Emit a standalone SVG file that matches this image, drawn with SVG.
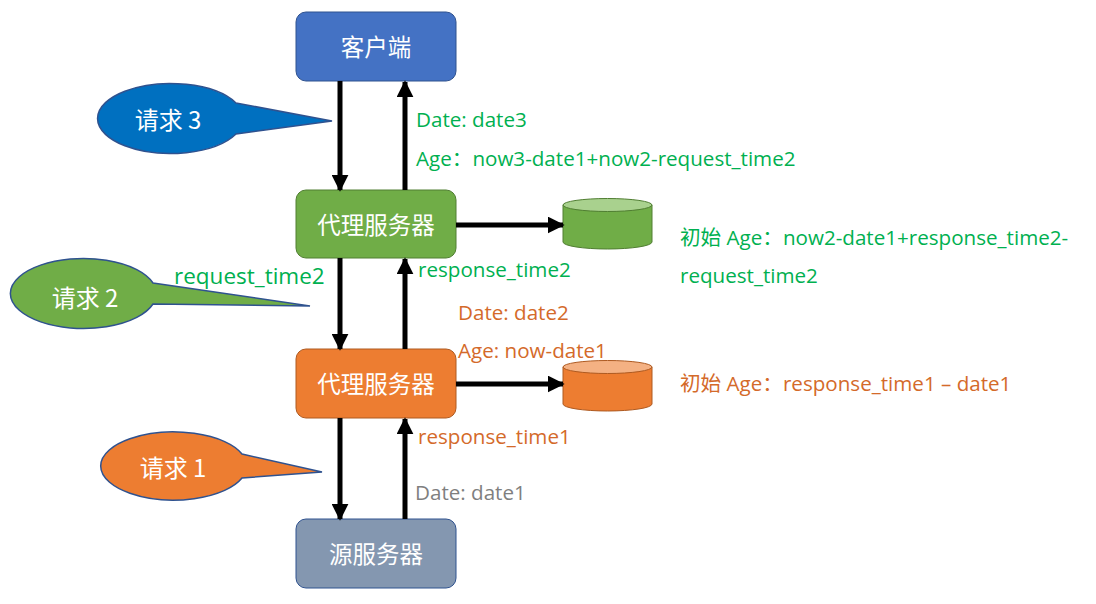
<svg xmlns="http://www.w3.org/2000/svg" width="1096" height="604" viewBox="0 0 1096 604">
<defs>
<marker id="ah" viewBox="0 0 10 10" refX="9" refY="5" markerWidth="3.4" markerHeight="3.4" orient="auto" markerUnits="strokeWidth"><path d="M0,0 L10,5 L0,10 Z" fill="#000"/></marker>
<style>
.node text{font-family:"Noto Sans CJK SC","Microsoft YaHei",sans-serif;font-size:23.5px;fill:#fff;text-anchor:middle;dominant-baseline:central}
.lbl{font-family:"Open Sans","Noto Sans CJK SC",sans-serif;font-size:20.6px}
.cjk{font-family:"Noto Sans CJK SC",sans-serif}
.g{fill:#00B050}.o{fill:#D46A2A}.gr{fill:#7F7F7F}
.conn line{stroke:#000;stroke-width:5;marker-end:url(#ah)}
.bub text{font-family:"Noto Sans CJK SC",sans-serif;font-size:24px;fill:#fff;text-anchor:middle;dominant-baseline:central}
</style>
</defs>
<rect width="1096" height="604" fill="#fff"/>
<g id="client" class="node"><rect x="296" y="12" width="160" height="69" rx="10" fill="#4472C4" stroke="#2F528F" stroke-width="1"/><text x="376" y="46">客户端</text></g>
<g id="proxy2" class="node"><rect x="296" y="190" width="160" height="68" rx="10" fill="#70AD47" stroke="#507E32" stroke-width="1"/><text x="376" y="224">代理服务器</text></g>
<g id="proxy1" class="node"><rect x="296" y="349" width="160" height="69" rx="10" fill="#ED7D31" stroke="#AE5A21" stroke-width="1"/><text x="376" y="383">代理服务器</text></g>
<g id="origin" class="node"><rect x="296" y="519" width="160" height="69" rx="10" fill="#8497B0" stroke="#2F528F" stroke-width="1"/><text x="376" y="553">源服务器</text></g>
<g id="cache2"><path d="M563,205 V242 A44.5,7 0 0 0 652,242 V205 Z" fill="#70AD47" stroke="#507E32"/><ellipse cx="607.5" cy="205" rx="44.5" ry="6.5" fill="#A9D18E" stroke="#507E32"/></g>
<g id="cache1"><path d="M563,367 V404 A44.5,7 0 0 0 652,404 V367 Z" fill="#ED7D31" stroke="#AE5A21"/><ellipse cx="607.5" cy="367" rx="44.5" ry="6.5" fill="#F4B183" stroke="#AE5A21"/></g>
<g id="req3" class="bub"><path d="M236,103 L332,121 L236,134 A73,35 0 1 1 236,103 Z" fill="#0070C0" stroke="#2F528F" stroke-width="1.5"/><text x="168" y="118">请求 3</text></g>
<g id="req2" class="bub"><path d="M153,283 L310,306 L153,304 A73,35 0 1 1 153,283 Z" fill="#70AD47" stroke="#2F528F" stroke-width="1.5"/><text x="85" y="296">请求 2</text></g>
<g id="req1" class="bub"><path d="M242,454 L322,472 L242,478 A73,34 0 1 1 242,454 Z" fill="#ED7D31" stroke="#2F528F" stroke-width="1.5"/><text x="173" y="466">请求 1</text></g>
<g class="conn">
<line x1="340" y1="81" x2="340" y2="190"/>
<line x1="405" y1="190" x2="405" y2="82"/>
<line x1="340" y1="258" x2="340" y2="349"/>
<line x1="405" y1="349" x2="405" y2="259"/>
<line x1="340" y1="418" x2="340" y2="519"/>
<line x1="405" y1="519" x2="405" y2="419"/>
<line x1="456" y1="225" x2="563" y2="225"/>
<line x1="456" y1="384" x2="563" y2="384"/>
</g>
<g id="labels" class="lbl">
<text x="416" y="127" class="g">Date: date3</text>
<text x="416" y="166" class="g">Age<tspan class="cjk">：</tspan>now3-date1+now2-request_time2</text>
<text x="174" y="284" class="g" style="font-size:22.5px">request_time2</text>
<text x="418" y="277" class="g">response_time2</text>
<text x="680" y="245" class="g"><tspan class="cjk">初始</tspan> Age<tspan class="cjk">：</tspan>now2-date1+response_time2-</text>
<text x="680" y="283" class="g">request_time2</text>
<text x="458" y="320" class="o">Date: date2</text>
<text x="458" y="358" class="o">Age: now-date1</text>
<text x="680" y="391" class="o"><tspan class="cjk">初始</tspan> Age<tspan class="cjk">：</tspan>response_time1 – date1</text>
<text x="418" y="444" class="o">response_time1</text>
<text x="415" y="500" class="gr">Date: date1</text>
</g>
</svg>
